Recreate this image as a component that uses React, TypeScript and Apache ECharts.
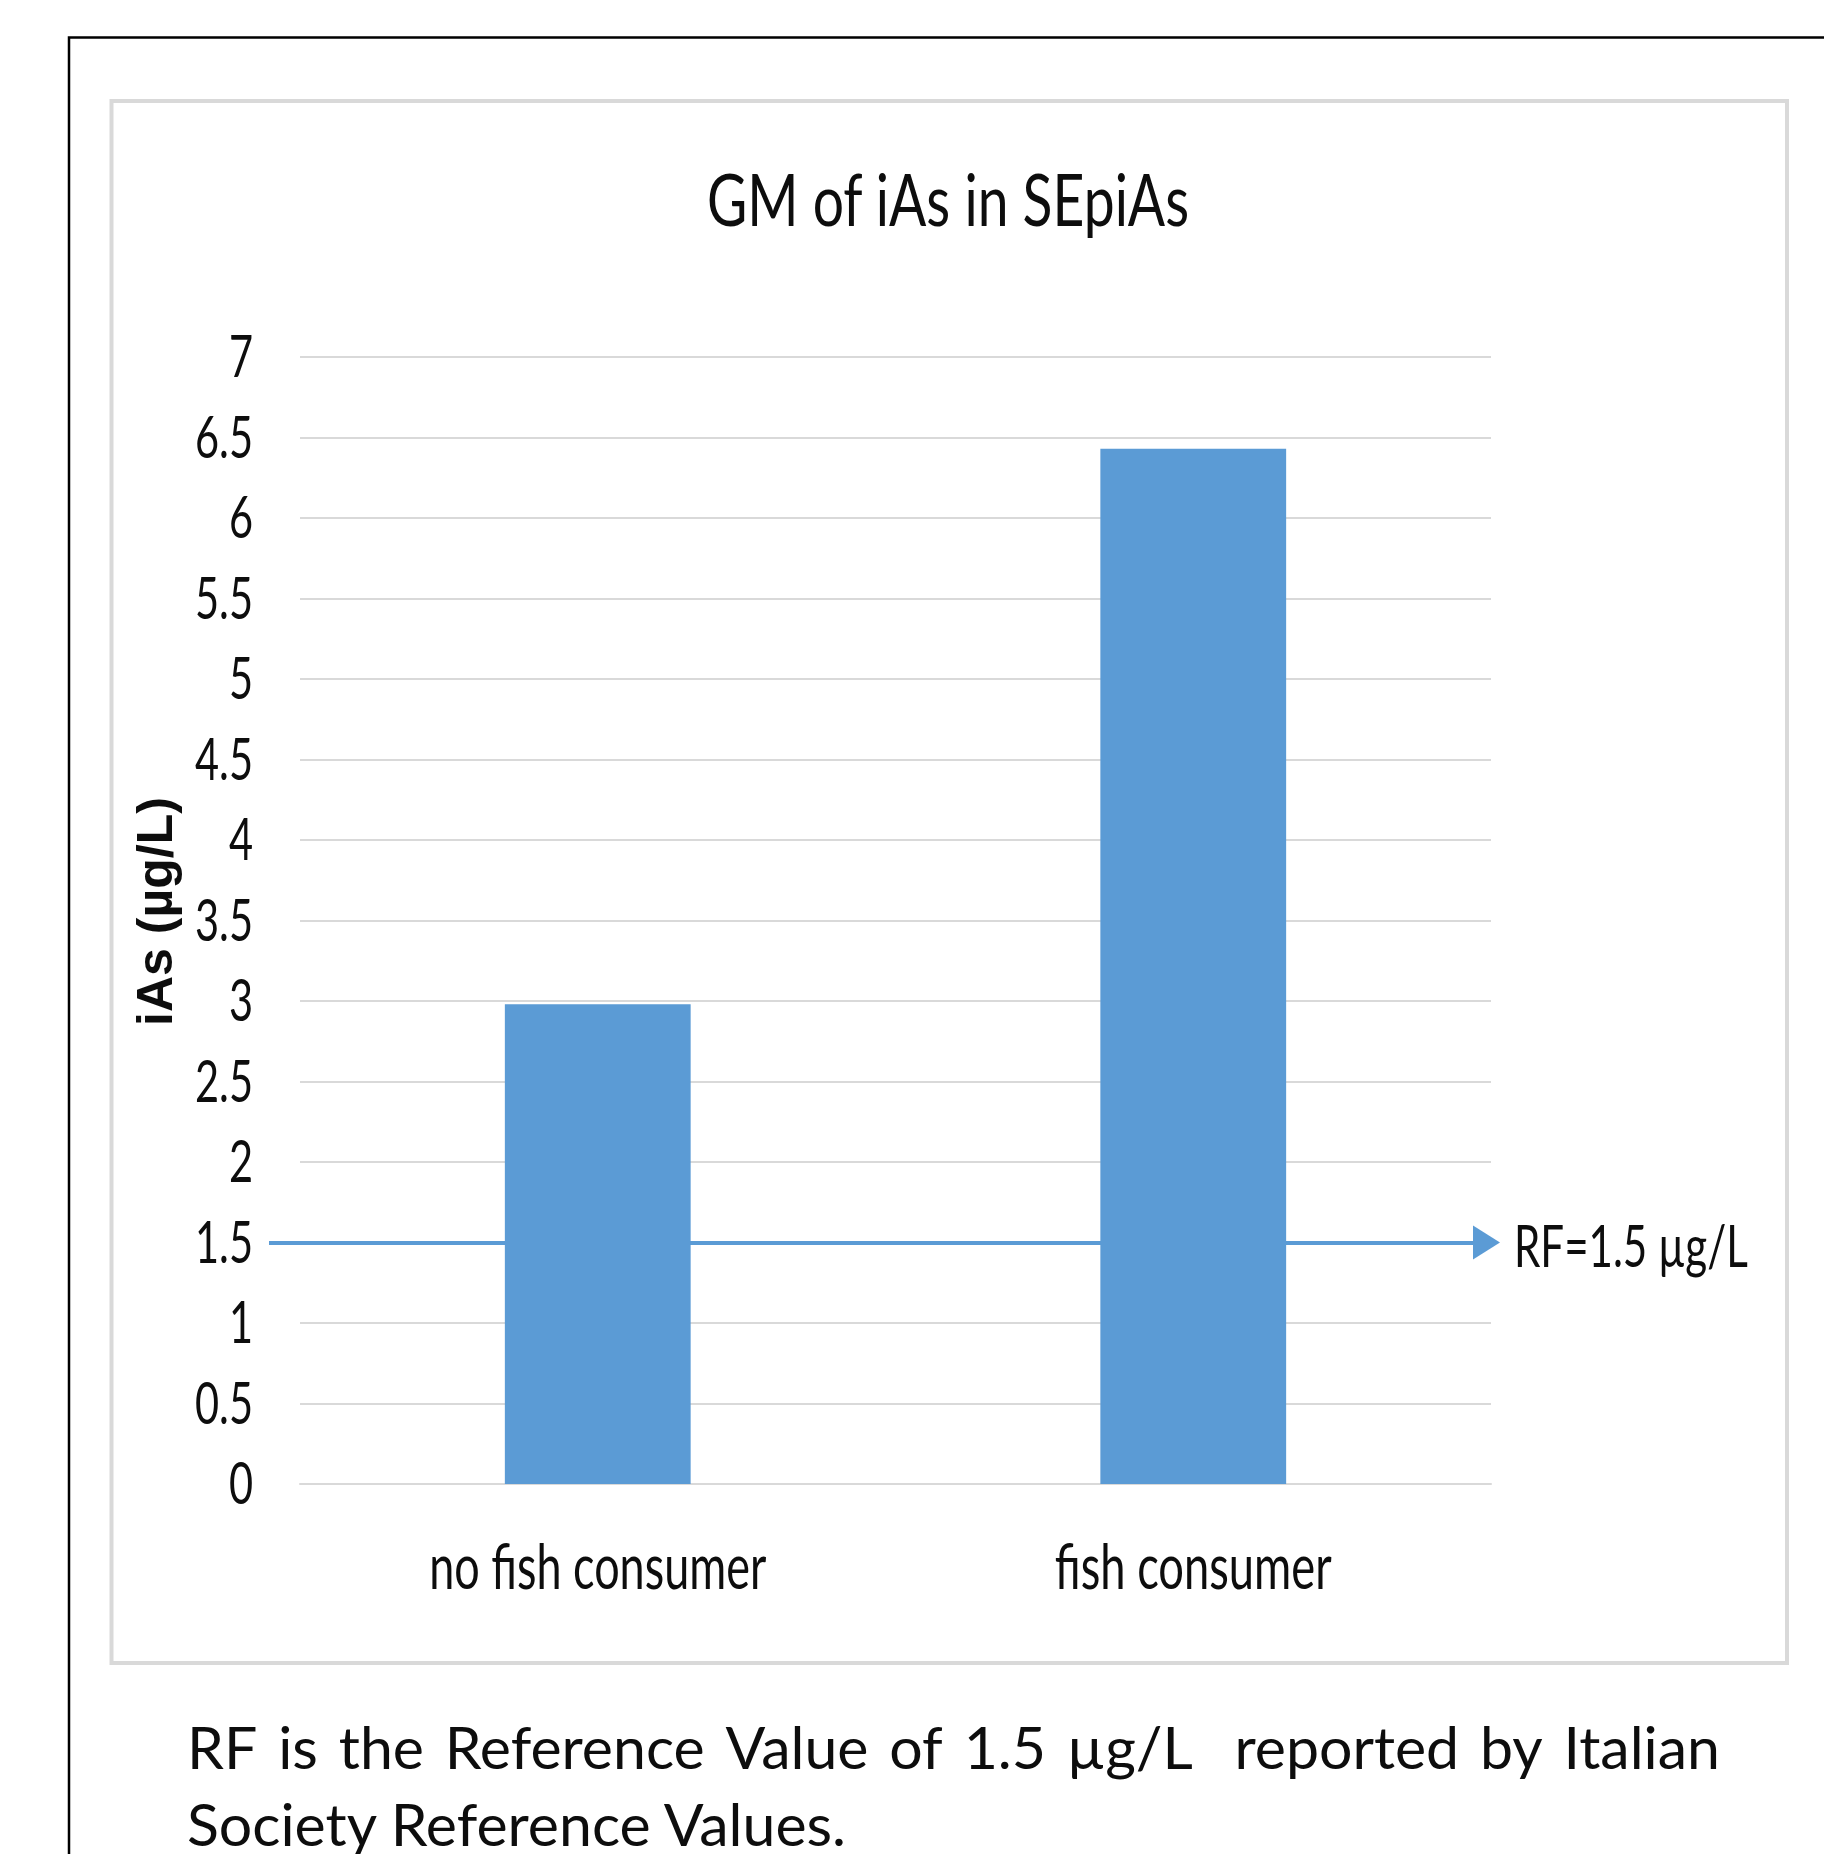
import React, { useEffect, useRef } from "react";
import * as echarts from "echarts";

// ---------- data ----------
const categories = ["no fish consumer", "fish consumer"];
const gmValues = [2.98, 6.43];
const referenceValue = 1.5;
const referenceLabel = "RF=1.5 µg/L";
const chartTitle = "GM of iAs in SEpiAs";
const yAxisName = "iAs (µg/L)";
const yMin = 0;
const yMax = 7;
const yInterval = 0.5;
const yTicks = [0, 0.5, 1, 1.5, 2, 2.5, 3, 3.5, 4, 4.5, 5, 5.5, 6, 6.5, 7];
const captionLine1 = ["RF", "is", "the", "Reference", "Value", "of", "1.5", "µg/L", "reported", "by", "Italian"];
const captionGapUnits = [1, 1, 1, 1, 1, 1, 1, 2, 1, 1];
const captionLine2 = "Society Reference Values.";

// ---------- styles ----------
const W = 1824;
const H = 1854;
const FONT = "Lato";
const CAPTION_SIZE = 59;
const BAR_COLOR = "#5b9bd5";
const GRID_COLOR = "#d9d9d9";
const TEXT_COLOR = "#0d0d0d";

const GRID = { left: 300, right: W - 1491, top: 357, bottom: H - 1484 };

function measure(text: string, font: string): number {
  const ctx = document.createElement("canvas").getContext("2d");
  if (!ctx) return text.length * 25;
  ctx.font = font;
  return ctx.measureText(text).width;
}

// condensed-looking text (the reference chart text is horizontally compressed)
function condensedText(
  text: string,
  x: number,
  y: number,
  size: number,
  align: string,
  opts: { width?: number; scale?: number; bold?: boolean }
): any {
  const font = `${opts.bold ? "bold " : ""}${size}px ${FONT}`;
  const sx = opts.width ? opts.width / measure(text, font) : opts.scale ?? 1;
  return {
    type: "text",
    x,
    y,
    scaleX: sx,
    z: 10,
    style: {
      text,
      fontFamily: FONT,
      fontSize: size,
      fontWeight: opts.bold ? "bold" : "normal",
      fill: TEXT_COLOR,
      align,
      verticalAlign: "middle",
    },
  };
}

function buildCaption(): any[] {
  const font = `${CAPTION_SIZE}px ${FONT}`;
  const left = 187;
  const right = 1720;
  const widths = captionLine1.map((w) => measure(w, font));
  const total = widths.reduce((a, b) => a + b, 0);
  const units = captionGapUnits.reduce((a, b) => a + b, 0);
  const unit = (right - left - total) / units;
  const out: any[] = [];
  let x = left;
  captionLine1.forEach((w, i) => {
    out.push({
      type: "text",
      x,
      y: 1746,
      style: {
        text: w,
        fontFamily: FONT,
        fontSize: CAPTION_SIZE,
        fill: TEXT_COLOR,
        align: "left",
        verticalAlign: "middle",
      },
    });
    x += widths[i] + (i < captionGapUnits.length ? captionGapUnits[i] * unit : 0);
  });
  out.push({
    type: "text",
    x: left,
    y: 1823,
    style: {
      text: captionLine2,
      fontFamily: FONT,
      fontSize: CAPTION_SIZE,
      fill: TEXT_COLOR,
      align: "left",
      verticalAlign: "middle",
    },
  });
  return out;
}

export default function App() {
  const ref = useRef<HTMLDivElement>(null);

  useEffect(() => {
    if (!ref.current) return;
    const chart = echarts.init(ref.current, null, { renderer: "svg" });

    const option: any = {
      animation: false,
      backgroundColor: "#ffffff",
      grid: { ...GRID, containLabel: false },
      xAxis: {
        type: "category",
        data: categories,
        axisLine: { show: true, lineStyle: { color: GRID_COLOR, width: 2 } },
        axisTick: { show: false },
        axisLabel: { show: false },
      },
      yAxis: {
        type: "value",
        min: yMin,
        max: yMax,
        interval: yInterval,
        name: yAxisName,
        nameLocation: "middle",
        nameRotate: 90,
        nameGap: 120,
        nameTextStyle: {
          fontFamily: "'Liberation Sans', Arial, sans-serif",
          fontWeight: "bold",
          fontSize: 50,
          color: TEXT_COLOR,
          padding: [0, 0, 0, 18],
        },
        axisLine: { show: false },
        axisTick: { show: false },
        splitLine: { show: true, lineStyle: { color: GRID_COLOR, width: 2 } },
        axisLabel: { show: false },
      },
      series: [
        {
          type: "bar",
          data: gmValues,
          barWidth: "31.2%",
          z: 3,
          itemStyle: { color: BAR_COLOR },
          markLine: {
            z: 1,
            silent: true,
            symbol: ["none", "triangle"],
            symbolSize: [34, 27],
            lineStyle: { color: BAR_COLOR, width: 4, type: "solid" },
            label: { show: false },
            data: [
              [
                { x: GRID.left - 31, yAxis: referenceValue },
                { x: W - GRID.right - 4.5, yAxis: referenceValue },
              ],
            ],
          },
        },
      ],
    };

    chart.setOption(option);

    // texts positioned through the chart's own scales
    const yPx = (v: number) => chart.convertToPixel({ yAxisIndex: 0 }, v) as number;
    const xPx = (c: string) => chart.convertToPixel({ xAxisIndex: 0 }, c) as number;

    const ySize = 58;
    const yScale = 58 / measure("6.5", `${ySize}px ${FONT}`);
    const yLabelTexts = yTicks.map((v) =>
      condensedText(String(v), 253, yPx(v) - 2, ySize, "right", { scale: yScale })
    );
    const catWidths = [337, 277];
    const catTexts = categories.map((c, i) =>
      condensedText(c, xPx(c), 1565, 61, "center", { width: catWidths[i] })
    );
    const titleText = condensedText(chartTitle, 948, 199, 72, "center", { width: 483 });
    const refText = condensedText(referenceLabel, 1514, yPx(referenceValue) + 1, 59, "left", {
      width: 234,
    });

    chart.setOption({
      graphic: [
        {
          type: "polyline",
          z: -10,
          shape: { points: [[69, H + 10], [69, 37.5], [W + 10, 37.5]] },
          style: { stroke: "#000000", lineWidth: 2.5, fill: "none" },
        },
        {
          type: "rect",
          z: -10,
          shape: { x: 111.5, y: 101, width: 1675.5, height: 1562 },
          style: { stroke: GRID_COLOR, lineWidth: 4, fill: "none" },
        },
        titleText,
        refText,
        ...yLabelTexts,
        ...catTexts,
        ...buildCaption(),
      ],
    });

    return () => chart.dispose();
  }, []);

  return (
    <div
      ref={ref}
      style={{ position: "absolute", left: 0, top: 0, width: W, height: H, background: "#fff" }}
    />
  );
}
